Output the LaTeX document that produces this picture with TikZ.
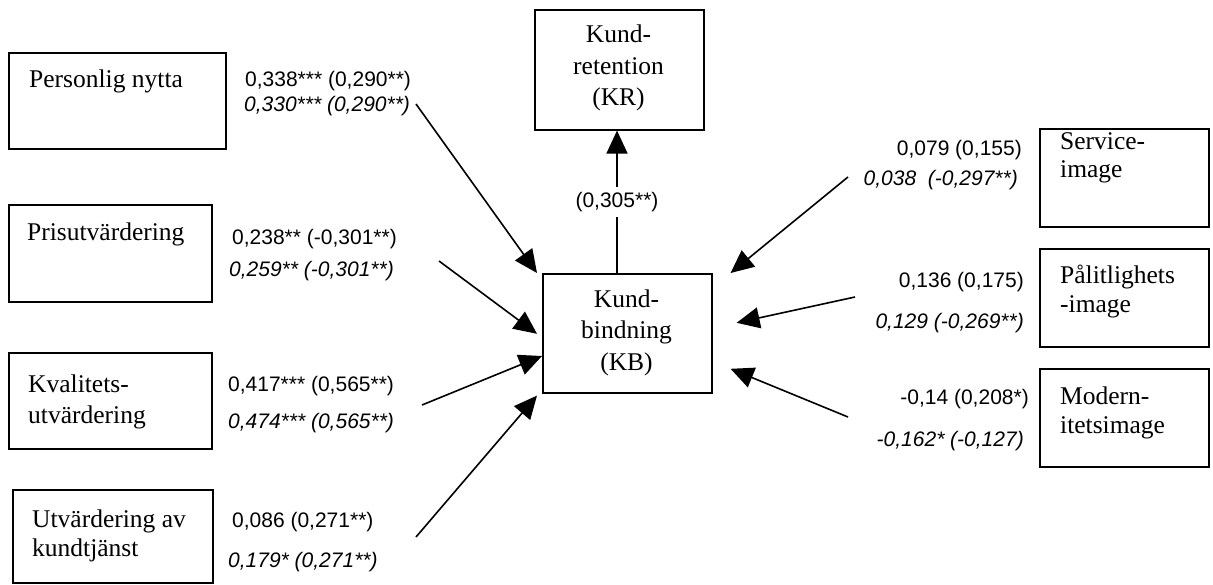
\documentclass[tikz,border=0pt]{standalone}
\usepackage{fontspec}
\setmainfont{Liberation Serif}
\newfontfamily\coeffont{Liberation Sans}
\usetikzlibrary{arrows.meta,calc}
\begin{document}
\begin{tikzpicture}[x=1pt,y=-1pt,
  box/.style={draw, line width=1.6pt, inner sep=0pt, anchor=north west},
  lbl/.style={font=\fontsize{25.5}{30}\selectfont, inner sep=0pt},
  lbll/.style={lbl, anchor=base west},
  lblc/.style={lbl, anchor=base},
  cf/.style={font=\coeffont\fontsize{21}{25}\selectfont, inner sep=0pt},
  cfl/.style={cf, anchor=base west},
  cfr/.style={cf, anchor=base east},
  cfi/.style={font=\coeffont\itshape\fontsize{21}{25}\selectfont},
  link/.style={line width=1.6pt, -{Triangle[length=23pt,width=21pt]}}]
\useasboundingbox (0,0) rectangle (1213,584);

% construct boxes
\node[box, minimum width=217pt, minimum height=96pt] (pn) at (8,52) {};
\node[box, minimum width=203pt, minimum height=97pt] (pv) at (8,204) {};
\node[box, minimum width=203pt, minimum height=96pt] (kv) at (8,352) {};
\node[box, minimum width=200pt, minimum height=93pt] (ut) at (12,489) {};
\node[box, minimum width=169pt, minimum height=120pt] (kr) at (534,9) {};
\node[box, minimum width=169pt, minimum height=119pt] (kb) at (542,273) {};
\node[box, minimum width=169pt, minimum height=98pt] (si) at (1039,128) {};
\node[box, minimum width=169pt, minimum height=98pt] (pi) at (1039,248) {};
\node[box, minimum width=169pt, minimum height=98pt] (mi) at (1039,368) {};

% box captions
\node[lbll] (pn1) at (29,87) {Personlig nytta};
\node[lbll] (pv1) at (27,240) {Prisutvärdering};
\node[lbll] (kv1) at (28,392) {Kvalitets-};
\node[lbll] (kv2) at (28,423) {utvärdering};
\node[lbll] (ut1) at (32,527) {Utvärdering av};
\node[lbll] (ut2) at (32,556) {kundtjänst};
\node[lblc] (kr1) at (618.5,42) {Kund-};
\node[lblc] (kr2) at (618.5,74) {retention};
\node[lblc] (kr3) at (618.5,105) {(KR)};
\node[lblc] (kb1) at (626.5,307) {Kund-};
\node[lblc] (kb2) at (626.5,338) {bindning};
\node[lblc] (kb3) at (626.5,370) {(KB)};
\node[lbll] (si1) at (1060,149) {Service-};
\node[lbll] (si2) at (1060,177) {image};
\node[lbll] (pi1) at (1060,283) {Pålitlighets};
\node[lbll] (pi2) at (1060,312) {-image};
\node[lbll] (mi1) at (1060,404) {Modern-};
\node[lbll] (mi2) at (1060,433) {itetsimage};

% path coefficients, left side
\node[cfl] (c1a) at (245,86) {0,338*** (0,290**)};
\node[cfl,cfi] (c1b) at (244,111) {0,330*** (0,290**)};
\node[cfl] (c2a) at (232,244) {0,238** (-0,301**)};
\node[cfl,cfi] (c2b) at (229,276) {0,259** (-0,301**)};
\node[cfl] (c3a) at (228,391) {0,417*** (0,565**)};
\node[cfl,cfi] (c3b) at (228,428) {0,474*** (0,565**)};
\node[cfl] (c4a) at (232,527) {0,086 (0,271**)};
\node[cfl,cfi] (c4b) at (228,567) {0,179* (0,271**)};

% path coefficients, right side
\node[cfr] (c5a) at (1022,155) {0,079 (0,155)};
\node[cfr,cfi] (c5b) at (1018,185) {0,038\ \ (-0,297**)};
\node[cfr] (c6a) at (1024,287) {0,136 (0,175)};
\node[cfr,cfi] (c6b) at (1024,328) {0,129 (-0,269**)};
\node[cfr] (c7a) at (1029,404) {-0,14 (0,208*)};
\node[cfr,cfi] (c7b) at (1024,446) {-0,162* (-0,127)};

% free ends of the arrows
\coordinate (s1) at (416,104);
\coordinate (s2) at (439,261);
\coordinate (s3) at (422,405);
\coordinate (s4) at (416,537);
\coordinate (s5) at (848,177);
\coordinate (s6) at (855,297);
\coordinate (s7) at (848,417);

\draw[link] (s1) -- ($(kb.north west)+(-5,0)$);
\draw[link] (s2) -- ($(kb.west)+(-5,0.5)$);
\draw[link] (s3) -- (kb.west |- 0,356);
\draw[link] (s4) -- ($(kb.south west)+(-5,2)$);
\draw[link] (s5) -- ($(kb.north east)+(18,0)$);
\draw[link] (s6) -- ($(kb.east)+(24,-10.5)$);
\draw[link] (s7) -- ($(kb.east)+(18,35.5)$);

% KB -> KR
\node[cf, inner sep=5pt] (c0) at (617,202) {(0,305**)};
\draw[line width=1.6pt] (kb.north -| c0) -- (c0.south);
\draw[link] (c0.north) -- (kr.south -| c0);
\end{tikzpicture}
\end{document}
